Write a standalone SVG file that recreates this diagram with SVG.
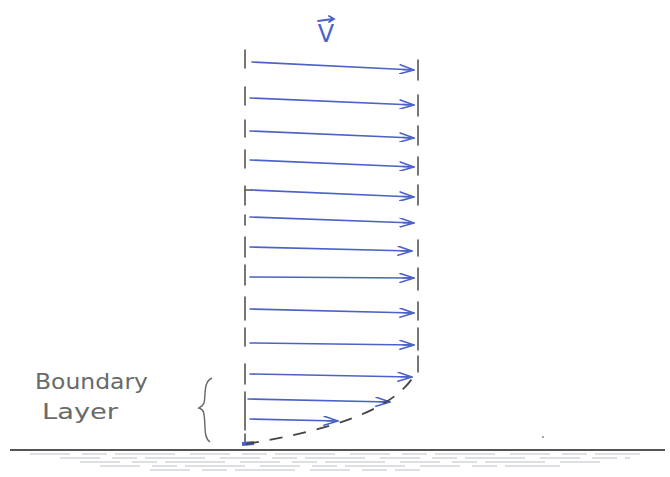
<svg xmlns="http://www.w3.org/2000/svg" width="670" height="477" viewBox="0 0 670 477">
<style>
.arr{stroke:#4d62c8;stroke-width:1.6;fill:none;marker-end:url(#ah);stroke-linecap:round}
.tick{stroke:#555;stroke-width:1.6;fill:none;stroke-linecap:round}
.hatch{stroke:#a8aebb;stroke-width:0.8;fill:none;stroke-dasharray:40,12,25,8,60,15}
.lbl{font-family:"DejaVu Sans",sans-serif;font-size:22px;fill:#6a6a6a;font-weight:normal}
</style>
<defs>
<marker id="ah" viewBox="0 0 16 10" refX="15" refY="5" markerWidth="16" markerHeight="10" markerUnits="userSpaceOnUse" orient="auto">
<path d="M1,0.5 L15,5 L1,9.5 M4,5 L15,5" stroke="#4d62c8" stroke-width="1.6" fill="none" stroke-linecap="round" stroke-linejoin="round"/>
</marker>
</defs>
<rect width="670" height="477" fill="#ffffff"/>

<g id="label-v">
<text x="326" y="42" text-anchor="middle" font-family="DejaVu Sans, sans-serif" font-size="24" fill="#4d62c8">V</text>
<path d="M318,21 L333,19 M329,16 L334,19 L329,22" stroke="#4d62c8" stroke-width="1.8" fill="none" stroke-linecap="round"/>
</g>

<g id="ticks-left">
<path class="tick" d="M245,50 V68 M245,87 V105 M245,120 V137 M245,150 V168 M245,186 V205 M245,215 V225 M245,237 V257 M245,265 V285 M245,297 V320 M245,328 V346 M245,364 V384 M245,392 V412 M245,408 V430 M245,434 V445"/>
<path class="tick" d="M245,190 L252,190"/>
</g>
<g id="ticks-right">
<path class="tick" d="M418,60 V80 M418,95 V116 M418,126 V145 M418,157 V175 M418,185 V205 M418,240 V256 M418,268 V290 M418,302 V320 M418,328 V350 M418,356 V372"/>
</g>

<g id="connectors">
<line class="arr" x1="252" y1="62" x2="414" y2="70"/>
<line class="arr" x1="250" y1="98" x2="414" y2="105"/>
<line class="arr" x1="250" y1="131" x2="414" y2="138"/>
<line class="arr" x1="250" y1="160" x2="414" y2="167"/>
<line class="arr" x1="252" y1="190" x2="414" y2="197"/>
<line class="arr" x1="250" y1="217" x2="414" y2="223"/>
<line class="arr" x1="250" y1="247" x2="412" y2="251"/>
<line class="arr" x1="250" y1="277" x2="414" y2="278"/>
<line class="arr" x1="250" y1="309" x2="414" y2="313"/>
<line class="arr" x1="250" y1="343" x2="414" y2="345"/>
<line class="arr" x1="250" y1="374" x2="412" y2="377"/>
<line class="arr" x1="248" y1="399" x2="390" y2="402"/>
<line class="arr" x1="250" y1="419" x2="338" y2="421"/>
<path d="M242,444 L254,443" stroke="#4d62c8" stroke-width="4" fill="none"/>
<path d="M246,444 C320,432 398,412 417,370" stroke="#444" stroke-width="1.8" fill="none" stroke-dasharray="13,11"/>
</g>

<g id="brace">
<path d="M212,378 C203,382 206,395 204,403 C203,406 201,407 199,408 C202,409 204,411 204,415 C206,425 203,437 210,442" stroke="#666" stroke-width="1.4" fill="none"/>
</g>

<g id="label-boundary">
<text class="lbl" x="35" y="389" textLength="113" lengthAdjust="spacingAndGlyphs">Boundary</text>
<text class="lbl" x="42" y="419" textLength="76" lengthAdjust="spacingAndGlyphs">Layer</text>
</g>

<g id="ground">
<line x1="10" y1="450" x2="665" y2="450" stroke="#555" stroke-width="1.8"/>
<path class="hatch" d="M30,454 H640 M60,458 H630 M80,462 H610 M100,466 H560 M150,470 H420"/>
<circle cx="543" cy="437" r="1" fill="#888"/>
</g>
</svg>
